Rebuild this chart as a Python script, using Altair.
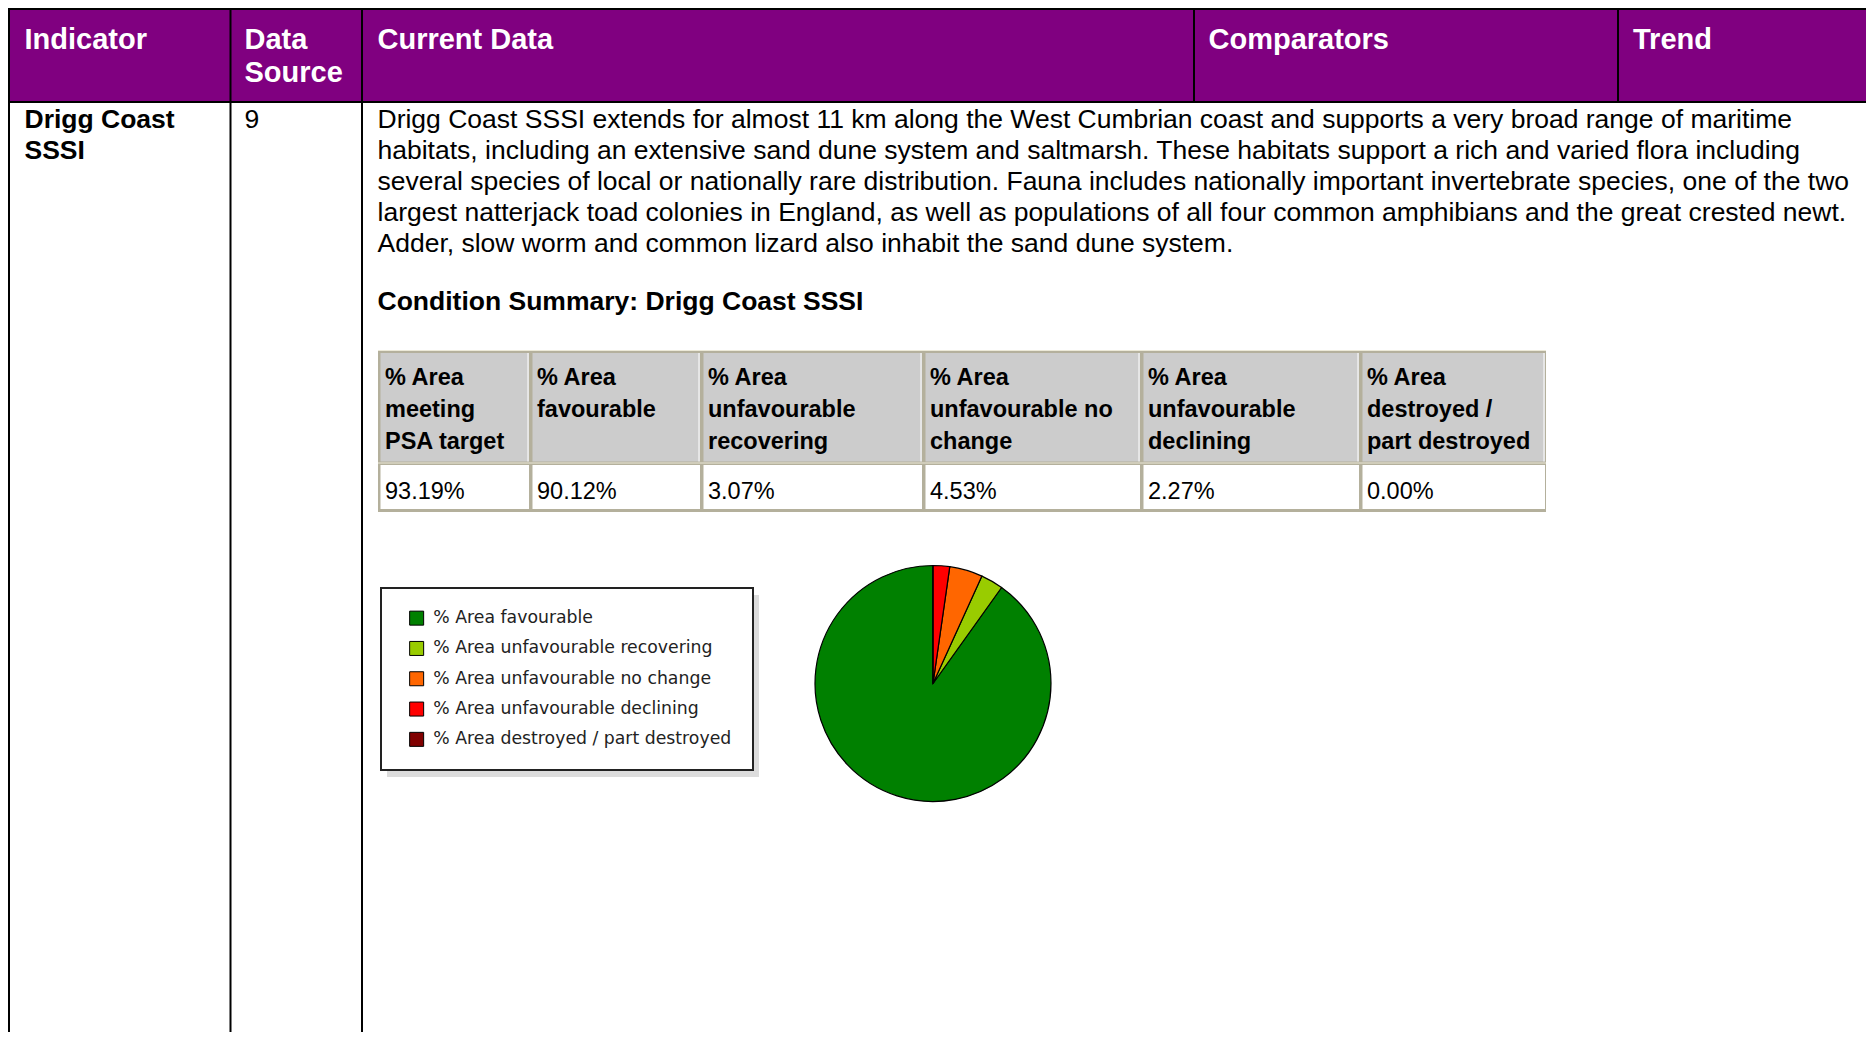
import altair as alt
import pandas as pd

# ---------------- data ----------------
header_labels = ["Indicator", "Data\nSource", "Current Data", "Comparators", "Trend"]
indicator_name = "Drigg Coast\nSSSI"
data_source = "9"
description_lines = [
    "Drigg Coast SSSI extends for almost 11 km along the West Cumbrian coast and supports a very broad range of maritime",
    "habitats, including an extensive sand dune system and saltmarsh. These habitats support a rich and varied flora including",
    "several species of local or nationally rare distribution. Fauna includes nationally important invertebrate species, one of the two",
    "largest natterjack toad colonies in England, as well as populations of all four common amphibians and the great crested newt.",
    "Adder, slow worm and common lizard also inhabit the sand dune system.",
]
summary_title = "Condition Summary: Drigg Coast SSSI"
summary_headers = [
    "% Area\nmeeting\nPSA target",
    "% Area\nfavourable",
    "% Area\nunfavourable\nrecovering",
    "% Area\nunfavourable no\nchange",
    "% Area\nunfavourable\ndeclining",
    "% Area\ndestroyed /\npart destroyed",
]
psa_target = 93.19
categories = [
    "% Area favourable",
    "% Area unfavourable recovering",
    "% Area unfavourable no change",
    "% Area unfavourable declining",
    "% Area destroyed / part destroyed",
]
values = [90.12, 3.07, 4.53, 2.27, 0.00]
colors = ["#008000", "#99CC00", "#FF6600", "#FF0000", "#800000"]
# clockwise from 12 o'clock: destroyed, declining, no change, recovering, favourable
pie_order = [4, 3, 2, 1, 0]

# ---------------- layout (pixels) ----------------
W, H = 1858, 1024
FONT = "Liberation Sans"
PURPLE = "#800080"
HEAD_TOP, HEAD_BOTTOM = 1, 94
full_col_lines = [1, 222.5, 354]
head_col_lines = [1186, 1610]
header_x = [16.5, 236.5, 369.5, 1200.5, 1625]
header_baseline = 41
body_baseline = 120
indicator_x, source_x, desc_x = 16.5, 236.5, 369.5
title_baseline = 302
tbl_edges = [370, 522, 693, 915, 1133, 1352, 1538]
tbl_top, tbl_mid, tbl_bottom = 342, 455, 504
tbl_head_baseline = 377
tbl_val_baseline = 491
legend_box = (373, 580, 745, 762)
shadow_dx, shadow_dy = 6, 7
pie_cx, pie_cy, pie_r = 925, 675.5, 118

X = lambda f: alt.X(f, type="quantitative", scale=None)
Y = lambda f: alt.Y(f, type="quantitative", scale=None)

def rects(rows, **mark):
    df = pd.DataFrame(rows, columns=["x", "y", "x2", "y2"])
    return alt.Chart(df).mark_rect(**mark).encode(
        x=X("x"), y=Y("y"), x2=alt.X2("x2"), y2=alt.Y2("y2"))

def rules(rows, **mark):
    df = pd.DataFrame(rows, columns=["x", "y", "x2", "y2"])
    return alt.Chart(df).mark_rule(**mark).encode(
        x=X("x"), y=Y("y"), x2=alt.X2("x2"), y2=alt.Y2("y2"))

def texts(rows, **mark):
    df = pd.DataFrame(rows, columns=["x", "y", "text"])
    return alt.Chart(df).mark_text(align="left", baseline="alphabetic",
                                   lineBreak="\n", font=FONT, **mark).encode(
        x=X("x"), y=Y("y"), text="text:N")

layers = []

# outer table: header band + black grid
layers.append(rects([(0, HEAD_TOP, W + 20, HEAD_BOTTOM)], fill=PURPLE))
layers.append(rules(
    [(0, HEAD_TOP, W + 20, HEAD_TOP), (0, HEAD_BOTTOM, W + 20, HEAD_BOTTOM)]
    + [(c, 0, c, H + 20) for c in full_col_lines]
    + [(c, 0, c, HEAD_BOTTOM) for c in head_col_lines],
    color="black", strokeWidth=2))

layers.append(texts([(x, header_baseline, t) for x, t in zip(header_x, header_labels)],
                    fontSize=29, fontWeight="bold", color="white", lineHeight=33))

# body row
layers.append(texts([(indicator_x, body_baseline, indicator_name)],
                    fontSize=26.5, fontWeight="bold", color="black", lineHeight=30.8))
layers.append(texts([(source_x, body_baseline, data_source),
                     (desc_x, body_baseline, "\n".join(description_lines))],
                    fontSize=26.5, color="black", lineHeight=30.9))
layers.append(texts([(desc_x, title_baseline, summary_title)],
                    fontSize=26.5, fontWeight="bold", color="black"))

# condition summary table
layers.append(rects([(tbl_edges[0], tbl_top, tbl_edges[-1], tbl_bottom)], fill="#B4B09C"))
layers.append(rules([(tbl_edges[0], tbl_top + 0.5, tbl_edges[-1], tbl_top + 0.5)],
                    color="#ECE9D8", strokeWidth=1))
head_cells, val_cells = [], []
for a, b in zip(tbl_edges[:-1], tbl_edges[1:]):
    head_cells.append((a + 2.5, tbl_top + 3, b - 1, tbl_mid - 1.5))
    val_cells.append((a + 2.5, tbl_mid + 2, b - 1, tbl_bottom - 3))
layers.append(rects(head_cells, fill="#CCCCCC"))
layers.append(rules([(b - 2, tbl_top + 3, b - 2, tbl_mid - 1.5) for b in tbl_edges[1:]],
                    color="white", strokeWidth=1))
layers.append(rects(val_cells, fill="white"))
layers.append(rules([(tbl_edges[0], tbl_mid, tbl_edges[-1], tbl_mid)],
                    color="#ECE9D8", strokeWidth=1))

value_labels = [f"{v:.2f}%" for v in [psa_target] + values]
layers.append(texts([(a + 7, tbl_head_baseline, t) for a, t in zip(tbl_edges, summary_headers)],
                    fontSize=23.5, fontWeight="bold", color="black", lineHeight=32))
layers.append(texts([(a + 7, tbl_val_baseline, t) for a, t in zip(tbl_edges, value_labels)],
                    fontSize=23.5, color="black"))

# legend box with shadow
lx0, ly0, lx1, ly1 = legend_box
layers.append(rects([(lx0 + shadow_dx, ly0 + shadow_dy, lx1 + shadow_dx, ly1 + shadow_dy)],
                    fill="#DCDCDC"))
layers.append(rects([legend_box], fill="white", stroke="#222222", strokeWidth=2))

# pie chart
pie_df = pd.DataFrame({"category": categories, "value": values, "ord": pie_order})
pie = alt.Chart(pie_df).mark_arc(radius=pie_r, stroke="black", strokeWidth=1.2).encode(
    theta=alt.Theta("value:Q", stack=True),
    order=alt.Order("ord:Q"),
    x=alt.value(pie_cx),
    y=alt.value(pie_cy),
    color=alt.Color(
        "category:N",
        scale=alt.Scale(domain=categories, range=colors),
        legend=alt.Legend(
            title=None, orient="none", legendX=400, legendY=601.5, padding=0,
            symbolType="square", symbolSize=196, symbolStrokeColor="black",
            symbolStrokeWidth=1, symbolOpacity=1,
            labelFont="DejaVu Sans", labelFontSize=17.3, labelColor="#222222",
            labelOffset=8, rowPadding=11.3, labelLimit=400,
        ),
    ),
)
layers.append(pie)

chart = alt.layer(*layers).properties(
    width=W, height=H, autosize="none", padding=0
).configure_view(strokeWidth=0)

chart.save("out.html", embed_options={"renderer": "svg", "actions": False})
